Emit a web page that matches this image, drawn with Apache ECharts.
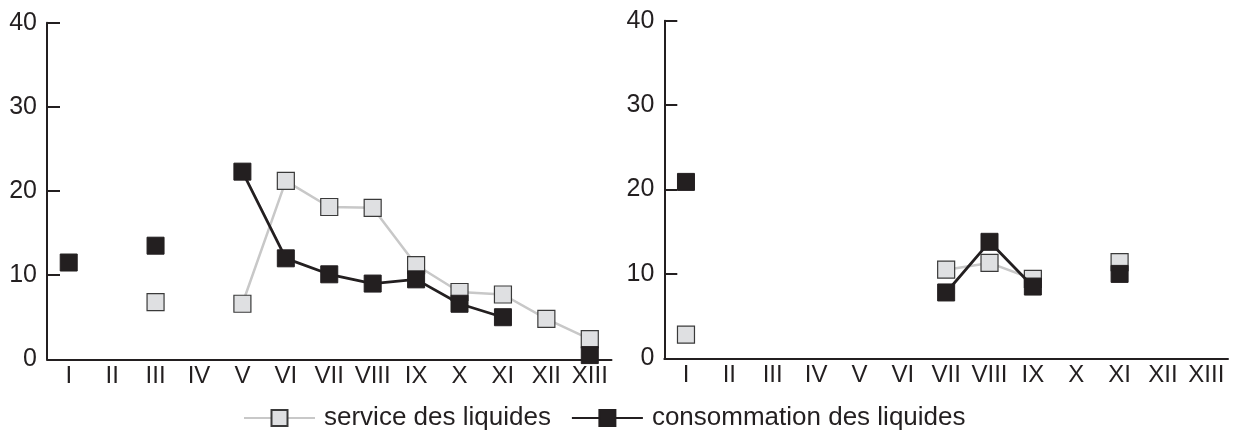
<!DOCTYPE html>
<html>
<head>
<meta charset="utf-8">
<script src="https://cdn.jsdelivr.net/npm/echarts@6/dist/echarts.min.js"></script>
<style>
html,body{margin:0;padding:0;background:#fff;}
#chart{width:1237px;height:432px;}
</style>
</head>
<body>
<div id="chart"></div>
<script>
var categories = ['I','II','III','IV','V','VI','VII','VIII','IX','X','XI','XII','XIII'];
var yTicks = [0, 10, 20, 30, 40];
var leftService = [null, null, 6.8, null, 6.6, 21.2, 18.1, 18.0, 11.2, 8.0, 7.7, 4.8, 2.4];
var leftConsumption = [11.5, null, 13.5, null, 22.3, 12.0, 10.1, 9.0, 9.5, 6.6, 5.0, null, 0.5];
var rightService = [2.8, null, null, null, null, null, 10.5, 11.3, 9.4, null, 11.4, null, null];
var rightConsumption = [20.9, null, null, null, null, null, 7.8, 13.8, 8.5, null, 10.0, null, null];
var seriesNames = ['service des liquides', 'consommation des liquides'];

var ink = '#231f20';
var font = 'Liberation Sans, Arial, sans-serif';

function xAxis(gi) {
  return {
    type: 'category', gridIndex: gi, data: categories, boundaryGap: true,
    axisLine: {lineStyle: {color: ink, width: 2}},
    axisTick: {inside: true, length: 8, lineStyle: {color: ink, width: 2}},
    axisLabel: {color: ink, fontSize: 24, fontFamily: font, margin: 5, interval: 0},
    splitLine: {show: false}
  };
}
function yAxis(gi) {
  return {
    type: 'value', gridIndex: gi, min: yTicks[0], max: yTicks[yTicks.length - 1], interval: 10,
    axisLine: {show: true, lineStyle: {color: ink, width: 2}},
    axisTick: {show: true, inside: true, length: 13, lineStyle: {color: ink, width: 2}},
    axisLabel: {color: ink, fontSize: 25, fontFamily: font, margin: 10},
    splitLine: {show: false}
  };
}
function svc(data, gi) {
  return {
    name: seriesNames[0], type: 'line', xAxisIndex: gi, yAxisIndex: gi, data: data,
    symbol: 'rect', symbolSize: 17, showSymbol: true, connectNulls: false,
    lineStyle: {color: '#c8c8c8', width: 2.5},
    itemStyle: {color: '#dfe0e2', borderColor: '#3a3a3a', borderWidth: 1.2},
    z: 2, animation: false
  };
}
function cons(data, gi) {
  return {
    name: seriesNames[1], type: 'line', xAxisIndex: gi, yAxisIndex: gi, data: data,
    symbol: 'rect', symbolSize: 17, showSymbol: true, connectNulls: false,
    lineStyle: {color: ink, width: 2.8},
    itemStyle: {color: ink, borderColor: ink, borderWidth: 1},
    z: 3, animation: false
  };
}

var chart = echarts.init(document.getElementById('chart'), null, {renderer: 'canvas'});
chart.setOption({
  backgroundColor: '#fff',
  animation: false,
  grid: [
    {left: 47, top: 22.7, width: 564.5, height: 336.6},
    {left: 664.3, top: 20.7, width: 563.7, height: 337.6}
  ],
  xAxis: [xAxis(0), xAxis(1)],
  yAxis: [yAxis(0), yAxis(1)],
  legend: {
    data: seriesNames,
    left: 238, top: 400,
    itemWidth: 71, itemHeight: 20, itemGap: 20,
    textStyle: {color: ink, fontSize: 26, fontFamily: font, padding: [0, 0, 0, 4]}
  },
  series: [svc(leftService, 0), cons(leftConsumption, 0), svc(rightService, 1), cons(rightConsumption, 1)]
});
</script>
</body>
</html>
